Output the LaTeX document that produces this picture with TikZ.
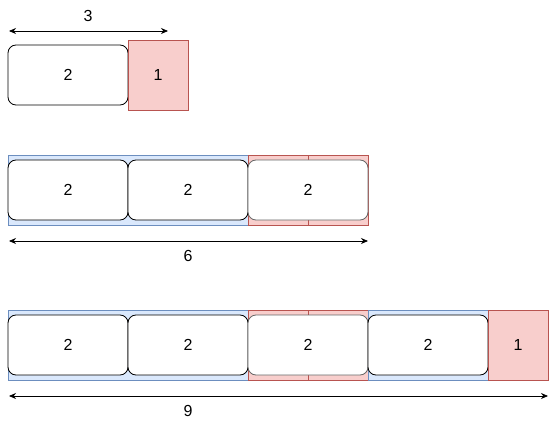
\documentclass[tikz,border=0pt]{standalone}
\usepackage{fontspec}
\setmainfont{Liberation Sans}
\usetikzlibrary{arrows.meta}
\definecolor{bluefill}{HTML}{DAE8FC}
\definecolor{bluedraw}{HTML}{6C8EBF}
\definecolor{redfill}{HTML}{F8CECC}
\definecolor{reddraw}{HTML}{B85450}
\begin{document}
\begin{tikzpicture}[x=1pt,y=-1pt,
  lbl/.style={font=\fontsize{16}{18}\selectfont},
  rbox/.style={draw=black, fill=white, rounded corners=8pt, line width=0.8pt, minimum width=120pt, minimum height=60pt, inner sep=0pt, lbl},
  gbox/.style={rbox, draw=black!60},
  bluerect/.style={draw=bluedraw, fill=bluefill, line width=0.8pt},
  redrect/.style={draw=reddraw, fill=redfill, line width=0.8pt},
  redsq/.style={redrect, minimum width=60pt, minimum height=70pt, inner sep=0pt, lbl},
  dim/.style={{Stealth[length=7pt,width=6pt]}-{Stealth[length=7pt,width=6pt]}, line width=0.8pt}
]
\useasboundingbox (0,0) rectangle (549,425);
% Row 1
\coordinate (a1) at (9,31);
\coordinate (a2) at (168,31);
\draw[dim] (a1) -- (a2);
\node[lbl] (t3) at (88,16) {3};
\node[rbox] (r1b1) at (68,75) {2};
\node[redsq] (r1s) at (158,75) {1};
% Row 2
\draw[bluerect] (8,155) rectangle (248,225);
\draw[redrect] (248,155) rectangle (308,225);
\draw[redrect] (308,155) rectangle (368,225);
\node[rbox] (r2b1) at (68,190) {2};
\node[rbox] (r2b2) at (188,190) {2};
\node[gbox] (r2b3) at (308,190) {2};
\coordinate (b1) at (9,241);
\coordinate (b2) at (368,241);
\draw[dim] (b1) -- (b2);
\node[lbl] (t6) at (188,256) {6};
% Row 3
\draw[bluerect] (8,310) rectangle (248,380);
\draw[redrect] (248,310) rectangle (308,380);
\draw[redrect] (308,310) rectangle (368,380);
\draw[bluerect] (368,310) rectangle (488,380);
\node[rbox] (r3b1) at (68,345) {2};
\node[rbox] (r3b2) at (188,345) {2};
\node[gbox] (r3b3) at (308,345) {2};
\node[rbox] (r3b4) at (428,345) {2};
\node[redsq] (r3s) at (518,345) {1};
\coordinate (c1) at (9,396);
\coordinate (c2) at (548,396);
\draw[dim] (c1) -- (c2);
\node[lbl] (t9) at (188,411) {9};
\end{tikzpicture}
\end{document}
